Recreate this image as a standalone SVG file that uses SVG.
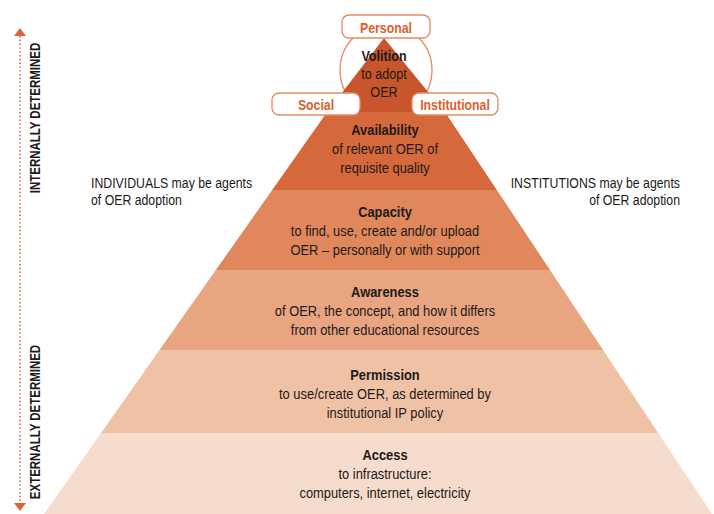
<svg xmlns="http://www.w3.org/2000/svg" width="714" height="514" viewBox="0 0 714 514">
<style>
  text { font-family: "Liberation Sans", Arial, sans-serif; }
  .t { font-size: 15px; fill: #1e1a18; text-anchor: middle; }
  .b { font-weight: bold; }
  .side { font-size: 15px; fill: #1e1a18; }
  .vert { font-size: 14px; fill: #1e1a18; text-anchor: middle; }
  .tag { fill: #ffffff; stroke: #e58a62; stroke-width: 1.3; }
  .tagt { font-size: 15px; font-weight: bold; fill: #d9622e; text-anchor: middle; }
  .arrow { stroke: #e0603a; stroke-width: 1.6; stroke-dasharray: 1.4 2.4; fill: none; }
  .head { fill: #e0603a; }
</style>
<rect width="714" height="514" fill="#ffffff"/>

<g id="axis">
  <line class="arrow" x1="20" y1="36" x2="20" y2="503"/>
  <polygon class="head" points="20,28 26,36 14,36"/>
  <polygon class="head" points="14,503 26,503 20,511"/>
  <text class="vert b" transform="translate(40,118) rotate(-90) scale(0.82,1)">INTERNALLY DETERMINED</text>
  <text class="vert b" transform="translate(40,422) rotate(-90) scale(0.82,1)">EXTERNALLY DETERMINED</text>
</g>

<g id="volition-circle">
  <circle cx="386" cy="70" r="46" fill="#ffffff" stroke="#e58a62" stroke-width="1.3"/>
</g>

<g id="volition">
  <polygon points="384,38 444.5,112 327.3,112" fill="#c8552b"/>
  <g transform="translate(384,0) scale(0.84,1)">
    <text class="t b" x="0" y="61">Volition</text>
    <text class="t" x="0" y="79">to adopt</text>
    <text class="t" x="0" y="97">OER</text>
  </g>
</g>

<g id="availability">
  <polygon points="327.3,112 444.5,112 447,115 496.8,190 272.2,190 325,115" fill="#d5693c"/>
  <g transform="translate(385,0) scale(0.86,1)">
    <text class="t b" x="0" y="135">Availability</text>
    <text class="t" x="0" y="154">of relevant OER of</text>
    <text class="t" x="0" y="173">requisite quality</text>
  </g>
</g>

<g id="capacity">
  <polygon points="272.2,190 496.8,190 550,270 215.8,270" fill="#e0885c"/>
  <g transform="translate(385,0) scale(0.86,1)">
    <text class="t b" x="0" y="217">Capacity</text>
    <text class="t" x="0" y="236">to find, use, create and/or upload</text>
    <text class="t" x="0" y="255">OER – personally or with support</text>
  </g>
</g>

<g id="awareness">
  <polygon points="215.8,270 550,270 603.1,350 159.5,350" fill="#e9a581"/>
  <g transform="translate(385,0) scale(0.86,1)">
    <text class="t b" x="0" y="297">Awareness</text>
    <text class="t" x="0" y="316">of OER, the concept, and how it differs</text>
    <text class="t" x="0" y="335">from other educational resources</text>
  </g>
</g>

<g id="permission">
  <polygon points="159.5,350 603.1,350 658.2,433 101,433" fill="#f0c2a5"/>
  <g transform="translate(385,0) scale(0.86,1)">
    <text class="t b" x="0" y="380">Permission</text>
    <text class="t" x="0" y="399">to use/create OER, as determined by</text>
    <text class="t" x="0" y="418">institutional IP policy</text>
  </g>
</g>

<g id="access">
  <polygon points="101,433 658.2,433 712,514 44,514" fill="#f6dccc"/>
  <g transform="translate(385,0) scale(0.86,1)">
    <text class="t b" x="0" y="460">Access</text>
    <text class="t" x="0" y="479">to infrastructure:</text>
    <text class="t" x="0" y="498">computers, internet, electricity</text>
  </g>
</g>

<g id="personal">
  <rect class="tag" x="342" y="15" width="88" height="23" rx="7"/>
  <text class="tagt" transform="translate(386,33) scale(0.82,1)">Personal</text>
</g>

<g id="social">
  <rect class="tag" x="272" y="93" width="88" height="22" rx="7"/>
  <text class="tagt" transform="translate(316,110) scale(0.82,1)">Social</text>
</g>

<g id="institutional">
  <rect class="tag" x="412" y="93" width="86" height="22" rx="7"/>
  <text class="tagt" transform="translate(455,110) scale(0.82,1)">Institutional</text>
</g>

<g id="individuals">
  <g transform="translate(91,0) scale(0.82,1)">
    <text class="side" x="0" y="188">INDIVIDUALS may be agents</text>
    <text class="side" x="0" y="205">of OER adoption</text>
  </g>
</g>

<g id="institutions">
  <g transform="translate(680,0) scale(0.82,1)">
    <text class="side" x="0" y="188" text-anchor="end">INSTITUTIONS may be agents</text>
    <text class="side" x="0" y="205" text-anchor="end">of OER adoption</text>
  </g>
</g>
</svg>
